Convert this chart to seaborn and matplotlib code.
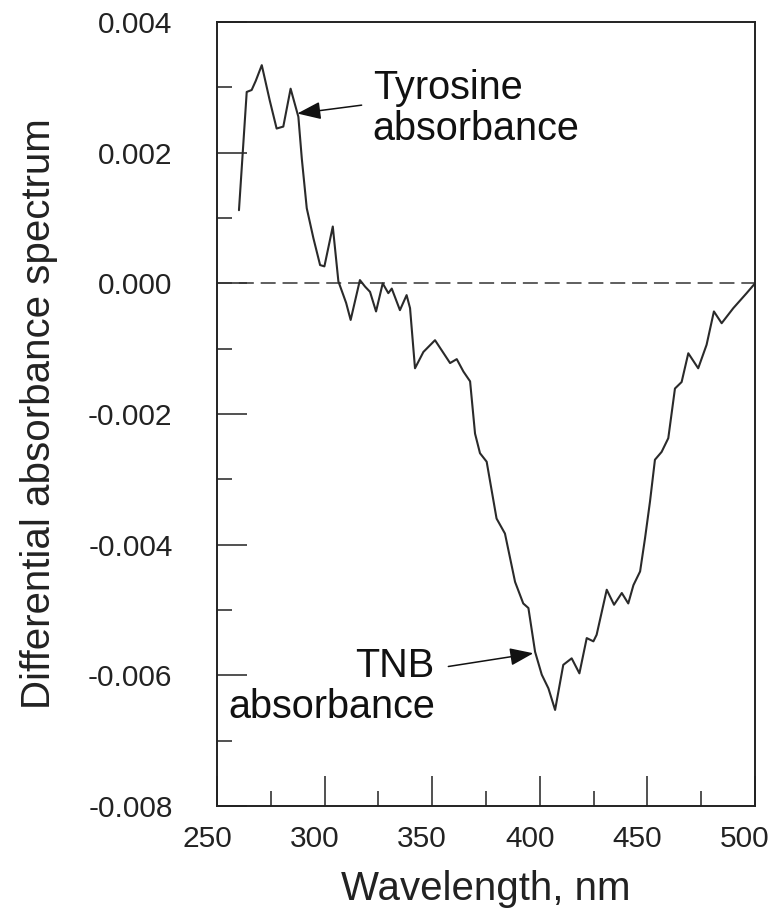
import pandas as pd
import matplotlib
matplotlib.use("Agg")
import matplotlib.pyplot as plt
import matplotlib.transforms as mtransforms
import seaborn as sns
from matplotlib.ticker import MultipleLocator

# Differential absorbance spectrum
wavelength = [260.2, 263.8, 266.1, 268.0, 270.8, 274.5, 277.7, 280.8, 284.2, 287.8,
              289.4, 291.7, 294.8, 297.9, 299.9, 303.8, 306.4, 308.7, 310.0, 312.1,
              316.4, 318.8, 321.1, 323.9, 327.0, 329.6, 331.2, 335.0, 338.1, 339.7,
              342.0, 345.9, 351.3, 358.3, 361.4, 364.5, 367.6, 369.9, 372.2, 375.3,
              379.9, 383.8, 388.5, 392.3, 394.7, 397.8, 400.9, 404.0, 407.1, 410.9,
              414.8, 418.4, 421.8, 424.9, 426.4, 431.1, 434.5, 438.1, 441.1, 443.5,
              446.6, 448.9, 451.2, 453.5, 456.6, 459.7, 462.8, 465.9, 469.0, 473.6,
              477.5, 480.9, 484.5, 489.9, 496.1, 500.0]
absorbance = [0.00112, 0.00293, 0.00296, 0.00310, 0.00334, 0.00280, 0.00237, 0.00240, 0.00298, 0.00255,
              0.00191, 0.00115, 0.00069, 0.00028, 0.00026, 0.00087, 0.00003, -0.00018, -0.00030, -0.00056,
              0.00005, -0.00005, -0.00013, -0.00043, 0.00000, -0.00015, -0.00008, -0.00041, -0.00018, -0.00038,
              -0.00130, -0.00105, -0.00087, -0.00122, -0.00116, -0.00135, -0.00150, -0.00230, -0.00260, -0.00273,
              -0.00360, -0.00383, -0.00457, -0.00490, -0.00497, -0.00564, -0.00599, -0.00620, -0.00653, -0.00584,
              -0.00574, -0.00597, -0.00543, -0.00548, -0.00538, -0.00469, -0.00492, -0.00474, -0.00490, -0.00462,
              -0.00441, -0.00390, -0.00334, -0.00270, -0.00258, -0.00237, -0.00161, -0.00151, -0.00107, -0.00130,
              -0.00094, -0.00043, -0.00061, -0.00038, -0.00015, 0.00000]

x_ticks = [250, 300, 350, 400, 450, 500]
y_ticks = [-0.008, -0.006, -0.004, -0.002, 0.000, 0.002, 0.004]
y_tick_labels = ["-0.008", "-0.006", "-0.004", "-0.002", "0.000", "0.002", "0.004"]

spectrum = pd.DataFrame({"wavelength": wavelength, "absorbance": absorbance})

sns.set_style("white")
plt.rcParams["font.family"] = ["Liberation Sans", "DejaVu Sans"]

fig = plt.figure(figsize=(7.77, 9.19), dpi=100)
ax = fig.add_axes([0.2793, 0.123, 0.6924, 0.853])

ax.axhline(0, color="#333333", lw=1.1, linestyle=(0, (9.8, 4.5)), zorder=1)
sns.lineplot(data=spectrum, x="wavelength", y="absorbance", ax=ax,
             color="#2a2a2a", lw=1.5, zorder=2)

ax.set_xlim(250, 500)
ax.set_ylim(-0.008, 0.004)
ax.set_xticks(x_ticks)
ax.set_yticks(y_ticks)
ax.set_yticklabels(y_tick_labels)
ax.xaxis.set_minor_locator(MultipleLocator(25))
ax.yaxis.set_minor_locator(MultipleLocator(0.001))

for s in ax.spines.values():
    s.set_visible(True)
    s.set_color("#222222")
    s.set_linewidth(1.4)

ax.tick_params(axis="both", which="both", direction="in", color="#222222",
               left=True, bottom=True, top=False, right=False, width=1.1,
               labelcolor="#222222")
ax.tick_params(axis="both", which="major", length=21.5, labelsize=21.5)
ax.tick_params(axis="both", which="minor", length=10.5)
ax.tick_params(axis="y", which="major", pad=32)
ax.tick_params(axis="x", which="major", pad=14)

# the x tick labels sit a little left of their ticks in the original
shift = mtransforms.ScaledTranslation(-0.10, 0, fig.dpi_scale_trans)
for lbl in ax.get_xticklabels():
    lbl.set_transform(lbl.get_transform() + shift)

ax.set_xlabel("Wavelength, nm", fontsize=29, color="#222222")
ax.set_ylabel("Differential absorbance spectrum", fontsize=29, color="#222222")
ax.xaxis.set_label_coords(0.5, -0.082)
ax.yaxis.set_label_coords(-0.295, 0.5)

# annotations
ax.text(322.35, 0.002188, "Tyrosine\nabsorbance", fontsize=28.5, ha="left",
        va="baseline", linespacing=1.1, color="#111111")
ax.annotate("", xy=(287.3, 0.0026), xytext=(317.2, 0.002728),
            arrowprops=dict(arrowstyle="-|>,head_length=1.2,head_width=0.45",
                            mutation_scale=12, color="#111111", lw=1.1,
                            shrinkA=0, shrinkB=0))

ax.text(351.2, -0.006656, "TNB\nabsorbance", fontsize=28.5, ha="right",
        va="baseline", multialignment="right", linespacing=1.1, color="#111111")
ax.annotate("", xy=(397.0, -0.005662), xytext=(357.5, -0.005865),
            arrowprops=dict(arrowstyle="-|>,head_length=1.2,head_width=0.45",
                            mutation_scale=12, color="#111111", lw=1.1,
                            shrinkA=0, shrinkB=0))

fig.savefig("out.png", dpi=100)
